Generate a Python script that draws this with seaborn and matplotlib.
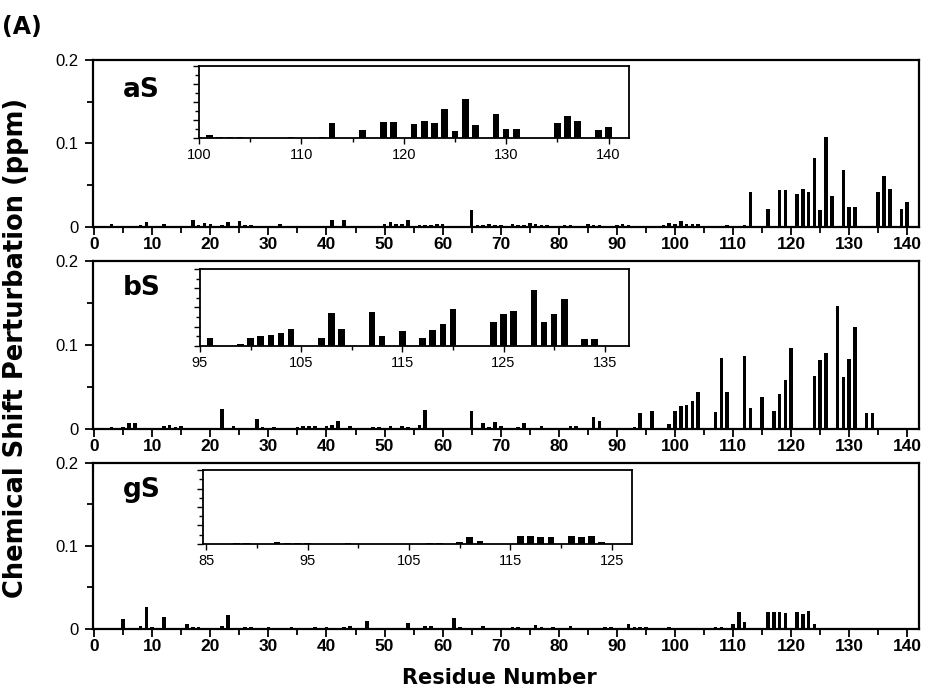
import matplotlib
matplotlib.use('Agg')
from matplotlib import pyplot as plt
from matplotlib.ticker import MultipleLocator, FuncFormatter
import seaborn as sns

# residue numbers and chemical shift perturbation (ppm)
as_res = [3, 8, 9, 12, 17, 18, 19, 20, 22, 23, 25, 26, 27, 32, 38, 41, 43, 50, 51, 52,
          53, 54, 56, 57, 58, 59, 60, 65, 66, 67, 68, 69, 70, 72, 73, 74, 75, 76, 77, 78,
          81, 82, 85, 86, 87, 90, 91, 92, 95, 98, 99, 100, 101, 102, 103, 104, 109, 111, 112, 113,
          115, 116, 118, 119, 121, 122, 123, 124, 125, 126, 127, 129, 130, 131, 135, 136, 137, 139, 140]
as_val = [0.004, 0.002, 0.006, 0.004, 0.008, 0.002, 0.005, 0.004, 0.002, 0.006, 0.007, 0.002, 0.002, 0.003, 0.001, 0.008, 0.008, 0.004, 0.006, 0.003,
          0.003, 0.008, 0.002, 0.002, 0.002, 0.003, 0.003, 0.020, 0.002, 0.002, 0.004, 0.002, 0.002, 0.003, 0.002, 0.002, 0.005, 0.003, 0.002, 0.002,
          0.002, 0.002, 0.003, 0.002, 0.002, 0.002, 0.004, 0.002, 0.001, 0.002, 0.005, 0.004, 0.007, 0.003, 0.003, 0.003, 0.002, 0.001, 0.002, 0.042,
          0.001, 0.022, 0.044, 0.044, 0.039, 0.046, 0.042, 0.082, 0.020, 0.108, 0.037, 0.068, 0.024, 0.024, 0.042, 0.061, 0.046, 0.022, 0.030]

bs_res = [3, 5, 6, 7, 9, 12, 13, 14, 15, 21, 22, 24, 28, 29, 31, 34, 35, 36, 37, 38,
          40, 41, 42, 44, 48, 49, 51, 53, 54, 56, 57, 62, 65, 67, 68, 69, 70, 73, 74, 77,
          81, 82, 83, 85, 86, 87, 93, 94, 96, 99, 100, 101, 102, 103, 104, 107, 108, 109, 112, 113,
          115, 117, 118, 119, 120, 124, 125, 126, 128, 129, 130, 131, 133, 134]
bs_val = [0.002, 0.002, 0.007, 0.007, 0.001, 0.003, 0.005, 0.002, 0.003, 0.001, 0.024, 0.004, 0.012, 0.002, 0.002, 0.001, 0.002, 0.003, 0.003, 0.004,
          0.003, 0.005, 0.009, 0.003, 0.002, 0.002, 0.004, 0.003, 0.002, 0.005, 0.023, 0.001, 0.021, 0.007, 0.002, 0.008, 0.003, 0.002, 0.007, 0.003,
          0.001, 0.003, 0.004, 0.001, 0.014, 0.009, 0.002, 0.019, 0.022, 0.006, 0.022, 0.027, 0.028, 0.033, 0.044, 0.020, 0.085, 0.044, 0.087, 0.025,
          0.038, 0.022, 0.042, 0.058, 0.097, 0.063, 0.082, 0.091, 0.146, 0.062, 0.083, 0.121, 0.019, 0.019]

gs_res = [4, 5, 7, 8, 9, 10, 11, 12, 14, 16, 17, 18, 22, 23, 26, 27, 30, 34, 38, 40,
          43, 44, 47, 51, 54, 57, 58, 62, 63, 64, 67, 70, 72, 73, 76, 77, 79, 80, 82, 88,
          89, 91, 92, 93, 94, 95, 96, 99, 103, 107, 108, 110, 111, 112, 116, 117, 118, 119, 120, 121,
          122, 123, 124, 125]
gs_val = [0.001, 0.012, 0.001, 0.004, 0.027, 0.002, 0.001, 0.014, 0.001, 0.006, 0.002, 0.002, 0.004, 0.017, 0.002, 0.002, 0.002, 0.002, 0.002, 0.002,
          0.002, 0.003, 0.010, 0.001, 0.007, 0.003, 0.004, 0.013, 0.002, 0.001, 0.003, 0.001, 0.002, 0.002, 0.005, 0.002, 0.002, 0.001, 0.003, 0.002,
          0.002, 0.001, 0.006, 0.002, 0.002, 0.002, 0.001, 0.002, 0.001, 0.002, 0.002, 0.006, 0.020, 0.008, 0.021, 0.021, 0.020, 0.019, 0.001, 0.021,
          0.018, 0.022, 0.006, 0.001]

panel_names = ['aS', 'bS', 'gS']
inset_xlims = [(100, 142), (95, 137.4), (84.7, 127)]
inset_majors = [(100, 10), (95, 10), (85, 10)]

sns.set_style('ticks')
plt.rcParams['font.family'] = ['Liberation Sans', 'DejaVu Sans']
plt.rcParams['text.color'] = 'black'
plt.rcParams['xtick.labelcolor'] = 'black'
plt.rcParams['ytick.labelcolor'] = 'black'
HEAVY = ['DejaVu Sans']

fig = plt.figure(figsize=(9.28, 6.96), dpi=100)

main_boxes = [(0.1002, 0.6739, 0.890, 0.240),
              (0.1002, 0.3836, 0.890, 0.2414),
              (0.1002, 0.0963, 0.890, 0.2385)]
inset_boxes = [(0.2144, 0.8017, 0.4634, 0.1034),
               (0.2155, 0.5029, 0.4623, 0.1106),
               (0.2188, 0.2184, 0.4623, 0.1063)]
label_y = [0.778, 0.798, 0.795]

data = [(as_res, as_val), (bs_res, bs_val), (gs_res, gs_val)]


def style_frame(ax, lw):
    for s in ax.spines.values():
        s.set_visible(True)
        s.set_linewidth(lw)
        s.set_color('black')


for i, (res, val) in enumerate(data):
    ax = fig.add_axes(main_boxes[i])
    sns.barplot(x=res, y=val, native_scale=True, color='black', saturation=1,
                width=0.62, errorbar=None, linewidth=0, ax=ax)
    ax.set_xlabel('')
    ax.set_ylabel('')
    style_frame(ax, 1.6)
    ax.xaxis.set_major_locator(MultipleLocator(10))
    ax.xaxis.set_minor_locator(MultipleLocator(5))
    ax.yaxis.set_major_locator(MultipleLocator(0.1))
    ax.yaxis.set_minor_locator(MultipleLocator(0.05))
    ax.yaxis.set_major_formatter(FuncFormatter(lambda v, p: '%g' % round(v, 3)))
    ax.set_xlim(-0.2, 142)
    ax.set_ylim(0, 0.2)
    ax.tick_params(axis='both', which='both', direction='out', color='black', width=1.3,
                   top=False, right=False)
    ax.tick_params(axis='both', which='major', length=5.5)
    ax.tick_params(axis='both', which='minor', length=4)
    ax.tick_params(axis='x', labelsize=12.5, pad=2)
    ax.tick_params(axis='y', labelsize=12, pad=5)
    for t in ax.get_xticklabels():
        t.set_fontweight('bold')
    ax.text(0.036, label_y[i], panel_names[i], transform=ax.transAxes,
            fontsize=19, fontweight='bold', family=HEAVY, va='baseline', ha='left')

    ins = fig.add_axes(inset_boxes[i])
    sns.barplot(x=res, y=val, native_scale=True, color='black', saturation=1,
                width=0.65, errorbar=None, linewidth=0, ax=ins)
    ins.set_xlabel('')
    ins.set_ylabel('')
    style_frame(ins, 1.3)
    start, step = inset_majors[i]
    ins.set_xticks([start + step * k for k in range(5)])
    ins.set_xticks([start + 5 + step * k for k in range(4)], minor=True)
    ins.yaxis.set_major_locator(MultipleLocator(0.05))
    ins.yaxis.set_minor_locator(MultipleLocator(0.025))
    ins.yaxis.set_major_formatter(FuncFormatter(lambda v, p: ''))
    ins.set_xlim(*inset_xlims[i])
    ins.set_ylim(0, 0.2)
    ins.tick_params(axis='both', which='both', direction='out', color='black', width=1.0,
                    top=False, right=False)
    ins.tick_params(axis='both', which='major', length=4)
    ins.tick_params(axis='both', which='minor', length=3)
    ins.tick_params(axis='x', labelsize=10.5, pad=3)

fig.text(0.017, 0.5, 'Chemical Shift Perturbation (ppm)', rotation=90, va='center', ha='center',
         fontsize=18.5, fontweight='bold', family=HEAVY)
fig.text(0.5377, 0.026, 'Residue Number', va='center', ha='center',
         fontsize=15, fontweight='bold', family=HEAVY)
fig.text(0.002, 0.961, '(A)', va='center', ha='left',
         fontsize=17, fontweight='bold', family=HEAVY)

fig.savefig('out.png', dpi=100, facecolor='white')
